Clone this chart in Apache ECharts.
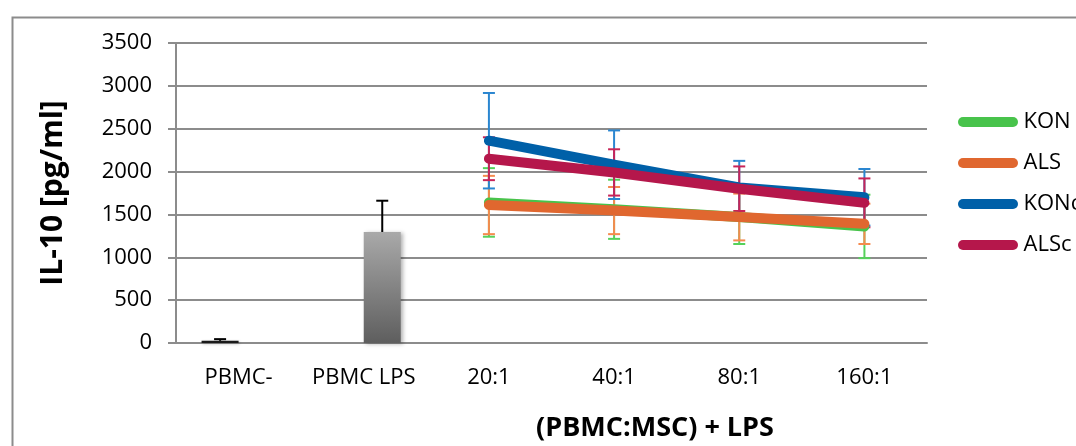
<!DOCTYPE html>
<html>
<head>
<meta charset="utf-8">
<script src="https://cdn.jsdelivr.net/npm/echarts@6/dist/echarts.min.js"></script>
<style>
html,body{margin:0;padding:0;background:#fff;}
#chart{width:1076px;height:446px;}
</style>
</head>
<body>
<div id="chart"></div>
<script>
const categories = ['PBMC-', 'PBMC LPS', '20:1', '40:1', '80:1', '160:1'];
const yTicks = [0, 500, 1000, 1500, 2000, 2500, 3000, 3500];

const barNeg = [25, '-', '-', '-', '-', '-'];
const barNegErr = [20, '-', '-', '-', '-', '-'];
const barLps = ['-', 1295, '-', '-', '-', '-'];
const barLpsErr = ['-', 365, '-', '-', '-', '-'];

const KON = ['-', '-', 1640, 1560, 1470, 1360];
const KONerr = ['-', '-', 400, 345, 315, 370];
const ALS = ['-', '-', 1610, 1545, 1470, 1390];
const ALSerr = ['-', '-', 340, 275, 273, 235];
const KONc = ['-', '-', 2360, 2080, 1815, 1700];
const KONcErr = ['-', '-', 557, 400, 310, 330];
const ALSc = ['-', '-', 2150, 1990, 1800, 1635];
const ALScErr = ['-', '-', 250, 270, 260, 285];

const FONT = 'Open Sans';
const chart = echarts.init(document.getElementById('chart'), null, {renderer: 'canvas'});

function errData(vals, errs) {
  const out = [];
  vals.forEach((v, i) => { if (v !== '-' && errs[i] !== '-') out.push([i, v, errs[i]]); });
  return out;
}

function errSeries(name, vals, errs, color, offset, plusOnly, z) {
  return {
    type: 'custom',
    name: name + ' err',
    z: z,
    silent: true,
    data: errData(vals, errs),
    renderItem: function (params, api) {
      const i = api.value(0), v = api.value(1), e = api.value(2);
      const top = api.coord([i, v + e]);
      const bot = api.coord([i, plusOnly ? v : v - e]);
      const x = top[0] + offset;
      const half = 6;
      const style = {stroke: color, lineWidth: 2};
      const children = [
        {type: 'line', shape: {x1: x, y1: top[1], x2: x, y2: bot[1]}, style: style},
        {type: 'line', shape: {x1: x - half, y1: top[1], x2: x + half, y2: top[1]}, style: style}
      ];
      if (!plusOnly) children.push({type: 'line', shape: {x1: x - half, y1: bot[1], x2: x + half, y2: bot[1]}, style: style});
      return {type: 'group', children: children};
    }
  };
}

const barGrad = new echarts.graphic.LinearGradient(0, 0, 0, 1, [
  {offset: 0, color: '#a9a9a9'},
  {offset: 1, color: '#5e5e5e'}
]);

function lineSeries(name, data, color, z) {
  return {
    type: 'line', name: name, data: data, z: z,
    symbol: 'none', showSymbol: false,
    lineStyle: {color: color, width: 10, cap: 'round', join: 'round'},
    itemStyle: {color: color},
    animation: false
  };
}

const pill = 'path://M5,0 L55,0 A5,5 0 0 1 55,10 L5,10 A5,5 0 0 1 5,0 Z';

const option = {
  animation: false,
  backgroundColor: '#fff',
  grid: {left: 176, right: 149, top: 43, bottom: 103, containLabel: false},
  legend: {
    data: [
      {name: 'KON', icon: pill},
      {name: 'ALS', icon: pill},
      {name: 'KONc', icon: pill},
      {name: 'ALSc', icon: pill}
    ],
    orient: 'vertical',
    left: 953, top: 106,
    itemWidth: 61, itemHeight: 10, itemGap: 19, itemTextGap: 2,
    textStyle: {fontFamily: FONT, fontSize: 22, color: '#000'}
  },
  xAxis: {
    type: 'category',
    data: categories,
    boundaryGap: true,
    axisLine: {show: true, lineStyle: {color: '#8c8c8c', width: 2}},
    axisTick: {show: false},
    axisLabel: {fontFamily: FONT, fontSize: 22, color: '#000', margin: 24, interval: 0}
  },
  yAxis: {
    type: 'value',
    min: 0, max: 3500, interval: 500,
    axisLine: {show: true, lineStyle: {color: '#8c8c8c', width: 2}},
    axisTick: {show: true, inside: false, length: 8, lineStyle: {color: '#8c8c8c', width: 2}},
    splitLine: {show: true, lineStyle: {color: '#8c8c8c', width: 2}},
    axisLabel: {fontFamily: FONT, fontSize: 22, color: '#000', margin: 24,
      formatter: function (v) { return yTicks.indexOf(v) >= 0 ? String(v) : ''; }},
    name: 'IL-10 [pg/ml]',
    nameLocation: 'middle',
    nameRotate: 90,
    nameGap: 108,
    nameTextStyle: {fontFamily: FONT, fontSize: 30, fontWeight: 'bold', color: '#000'}
  },
  series: [
    {
      type: 'bar', name: 'PBMC-', data: barNeg, barWidth: 37, barGap: '0%', z: 2,
      itemStyle: {color: '#1a1a1a', shadowBlur: 3, shadowColor: 'rgba(0,0,0,0.25)', shadowOffsetX: 1, shadowOffsetY: 1}
    },
    {
      type: 'bar', name: 'PBMC LPS', data: barLps, barWidth: 37, barGap: '0%', z: 2,
      itemStyle: {color: barGrad, shadowBlur: 4, shadowColor: 'rgba(0,0,0,0.3)', shadowOffsetX: 2, shadowOffsetY: 1}
    },
    errSeries('PBMC-', barNeg, barNegErr, '#000', -18.5, true, 1),
    errSeries('PBMC LPS', barLps, barLpsErr, '#000', 18.5, true, 1),
    errSeries('KON', KON, KONerr, '#55d15a', 0, false, 3),
    errSeries('ALS', ALS, ALSerr, '#f58a4e', 0, false, 3),
    errSeries('KONc', KONc, KONcErr, '#2a86d0', 0, false, 3),
    errSeries('ALSc', ALSc, ALScErr, '#c82458', 0, false, 3),
    lineSeries('KON', KON, '#48c34b', 4),
    lineSeries('ALS', ALS, '#e0672f', 5),
    lineSeries('KONc', KONc, '#0060a8', 6),
    lineSeries('ALSc', ALSc, '#b5174b', 7)
  ],
  graphic: [
    {type: 'rect', left: 10, top: 15, z: 100, silent: true,
      shape: {width: 1080, height: 450},
      style: {fill: 'none', stroke: '#8c8c8c', lineWidth: 2}},
    {type: 'text', x: 655, y: 428, z: 100,
      style: {text: '(PBMC:MSC) + LPS', fontFamily: FONT, fontSize: 27, fontWeight: 'bold', fill: '#000',
        textAlign: 'center', textVerticalAlign: 'middle'}}
  ]
};
chart.setOption(option);
</script>
</body>
</html>
